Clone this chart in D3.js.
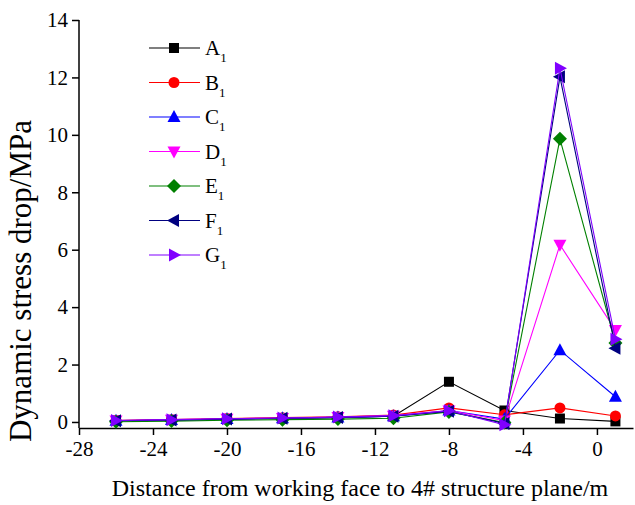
<!DOCTYPE html>
<html>
<head>
<meta charset="utf-8">
<script src="https://cdn.jsdelivr.net/npm/d3@7"></script>
<style>
  body { margin: 0; background: #fff; }
</style>
</head>
<body>
<div class="viz"></div>
<script>
// distance from working face (m)
const distances = [-26, -23, -20, -17, -14, -11, -8, -5, -2, 1];

const seriesA = [0.05, 0.07, 0.10, 0.12, 0.15, 0.20, 1.40, 0.40, 0.12, 0.02];
const seriesB = [0.05, 0.08, 0.12, 0.15, 0.18, 0.24, 0.49, 0.25, 0.49, 0.21];
const seriesC = [0.04, 0.07, 0.10, 0.13, 0.16, 0.20, 0.40, 0.10, 2.50, 0.88];
const seriesD = [0.05, 0.08, 0.11, 0.14, 0.17, 0.22, 0.40, 0.05, 6.17, 3.20];
const seriesE = [0.01, 0.03, 0.06, 0.08, 0.10, 0.13, 0.35, -0.02, 9.86, 2.75];
const seriesF = [0.04, 0.07, 0.10, 0.13, 0.16, 0.20, 0.37, -0.05, 12.02, 2.57];
const seriesG = [0.05, 0.08, 0.11, 0.14, 0.17, 0.22, 0.39, -0.10, 12.32, 2.88];

const seriesNames = ["A", "B", "C", "D", "E", "F", "G"];
const xTicks = [-28, -24, -20, -16, -12, -8, -4, 0];
const yTicks = [0, 2, 4, 6, 8, 10, 12, 14];

const allSeries = [
    {name: "A", values: seriesA, color: "#000000", shape: "square"},
    {name: "B", values: seriesB, color: "#ff0000", shape: "circle"},
    {name: "C", values: seriesC, color: "#0000ff", shape: "up"},
    {name: "D", values: seriesD, color: "#ff00ff", shape: "down"},
    {name: "E", values: seriesE, color: "#008000", shape: "diamond"},
    {name: "F", values: seriesF, color: "#000080", shape: "left"},
    {name: "G", values: seriesG, color: "#8000ff", shape: "right"}
];

const font = "'Liberation Serif', 'Times New Roman', serif";
const width = 635, height = 505;
const plotLeft = 79, plotRight = 633, plotTop = 20, plotBottom = 428;

const svg = d3.select(".viz").append("svg")
    .attr("width", width)
    .attr("height", height)
    .attr("font-family", font);

const x = d3.scaleLinear().domain([-28, 1.95]).range([plotLeft, plotRight]);
const y = d3.scaleLinear().domain([-0.21, 14]).range([plotBottom, plotTop]);

// axes (plain hyphen for negatives like the original)
const xAxis = svg.append("g")
    .attr("transform", "translate(0," + plotBottom + ")")
    .call(d3.axisBottom(x).tickValues(xTicks).tickFormat(d => String(d))
        .tickSize(7).tickPadding(6).tickSizeOuter(0));
const yAxis = svg.append("g")
    .attr("transform", "translate(" + plotLeft + ",0)")
    .call(d3.axisLeft(y).tickValues(yTicks).tickFormat(d => String(d))
        .tickSize(7).tickPadding(4).tickSizeOuter(0));

[xAxis, yAxis].forEach(a => {
    a.attr("font-family", font).attr("font-size", 21);
    a.select(".domain").attr("stroke", "#000").attr("stroke-width", 1.5);
    a.selectAll(".tick line").attr("stroke", "#000").attr("stroke-width", 1.5);
    a.selectAll(".tick text").attr("fill", "#000");
});
yAxis.select(".domain").attr("d", "M0," + y(14) + "V" + plotBottom);

// axis titles
svg.append("text")
    .attr("x", 360)
    .attr("y", 496)
    .attr("text-anchor", "middle")
    .attr("font-size", 24)
    .text("Distance from working face to 4# structure plane/m");

svg.append("text")
    .attr("transform", "translate(31,281) rotate(-90)")
    .attr("text-anchor", "middle")
    .attr("font-size", 31)
    .text("Dynamic stress drop/MPa");

// marker shapes
function markerPath(shape) {
    const s = 6;
    switch (shape) {
        case "square": return "M-5,-5h10v10h-10z";
        case "up": return "M0," + (-s - 1) + "L" + (s + 0.5) + "," + (s - 1) + "L" + (-s - 0.5) + "," + (s - 1) + "Z";
        case "down": return "M0," + (s + 1) + "L" + (s + 0.5) + "," + (-s + 1) + "L" + (-s - 0.5) + "," + (-s + 1) + "Z";
        case "left": return "M" + (-s - 1) + ",0L" + (s - 1) + "," + (-s - 0.5) + "L" + (s - 1) + "," + (s + 0.5) + "Z";
        case "right": return "M" + (s + 1) + ",0L" + (-s + 1) + "," + (-s - 0.5) + "L" + (-s + 1) + "," + (s + 0.5) + "Z";
        case "diamond": return "M0,-7L7,0L0,7L-7,0Z";
    }
}

function drawMarker(sel, d, px, py) {
    if (d.shape === "circle") {
        sel.append("circle").attr("cx", px).attr("cy", py).attr("r", 5.5).attr("fill", d.color);
    } else {
        sel.append("path")
            .attr("d", markerPath(d.shape))
            .attr("transform", "translate(" + px + "," + py + ")")
            .attr("fill", d.color);
    }
}

const line = d3.line()
    .x((v, i) => x(distances[i]))
    .y(v => y(v));

allSeries.forEach(d => {
    const g = svg.append("g").attr("class", "series-" + d.name);
    g.append("path")
        .datum(d.values)
        .attr("d", line)
        .attr("fill", "none")
        .attr("stroke", d.color)
        .attr("stroke-width", 1.1);
    d.values.forEach((v, i) => drawMarker(g, d, x(distances[i]), y(v)));
});

// legend
const legend = svg.append("g").attr("class", "legend");
allSeries.forEach((d, i) => {
    const ly = 48 + i * 34.5;
    legend.append("line")
        .attr("x1", 149).attr("x2", 200)
        .attr("y1", ly).attr("y2", ly)
        .attr("stroke", d.color).attr("stroke-width", 1.1);
    drawMarker(legend, d, 174, ly);
    const t = legend.append("text")
        .attr("x", 205).attr("y", ly + 7)
        .attr("font-size", 21)
        .text(seriesNames[i]);
    t.append("tspan")
        .attr("dy", 7)
        .attr("font-size", 13)
        .text("1");
});
</script>
</body>
</html>
